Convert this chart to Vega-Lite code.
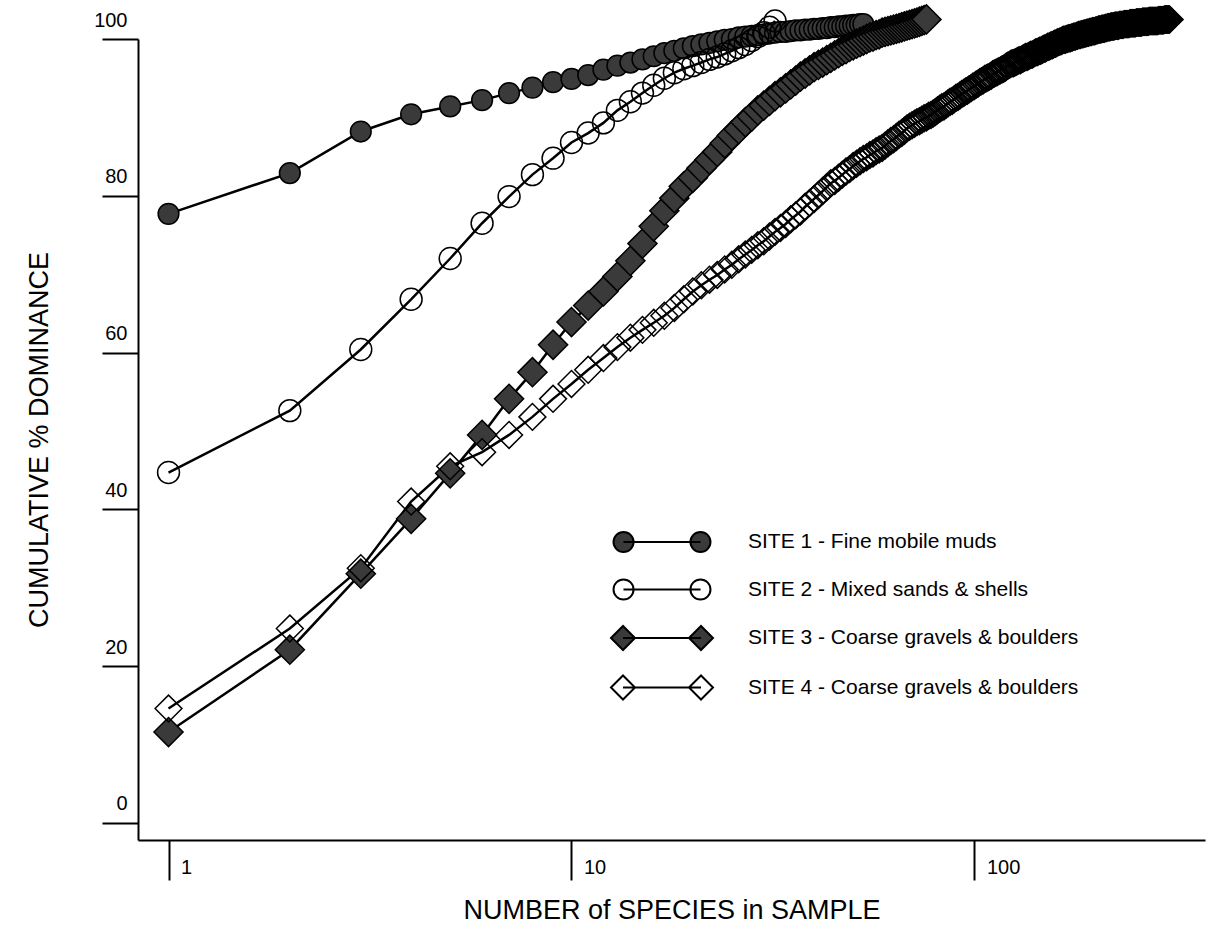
{
"$schema":"https://vega.github.io/schema/vega-lite/v6.json",
"width":1067,"height":801,
"autosize":{"type":"none"},
"padding":{"left":138,"top":39,"right":4,"bottom":103},
"background":"white",
"config":{"font":"Liberation Sans","view":{"stroke":null},"axis":{"grid":false,"domainColor":"black","tickColor":"black","labelColor":"black","titleColor":"black","labelFont":"Liberation Sans","titleFont":"Liberation Sans","titleFontWeight":"normal","labelOverlap":false},"legend":{"padding":0}},
"datasets":{"d":[
{"site":"SITE 1","n":1,"pct":77.7},{"site":"SITE 1","n":2,"pct":82.9},{"site":"SITE 1","n":3,"pct":88.2},{"site":"SITE 1","n":4,"pct":90.4},{"site":"SITE 1","n":5,"pct":91.4},{"site":"SITE 1","n":6,"pct":92.2},{"site":"SITE 1","n":7,"pct":93.1},{"site":"SITE 1","n":8,"pct":93.8},{"site":"SITE 1","n":9,"pct":94.5},{"site":"SITE 1","n":10,"pct":94.9},
{"site":"SITE 1","n":11,"pct":95.4},{"site":"SITE 1","n":12,"pct":96.1},{"site":"SITE 1","n":13,"pct":96.6},{"site":"SITE 1","n":14,"pct":97.0},{"site":"SITE 1","n":15,"pct":97.4},{"site":"SITE 1","n":16,"pct":97.8},{"site":"SITE 1","n":17,"pct":98.2},{"site":"SITE 1","n":18,"pct":98.5},{"site":"SITE 1","n":19,"pct":98.8},{"site":"SITE 1","n":20,"pct":99.1},
{"site":"SITE 1","n":21,"pct":99.3},{"site":"SITE 1","n":22,"pct":99.5},{"site":"SITE 1","n":23,"pct":99.7},{"site":"SITE 1","n":24,"pct":99.9},{"site":"SITE 1","n":25,"pct":100.0},{"site":"SITE 1","n":26,"pct":100.2},{"site":"SITE 1","n":27,"pct":100.3},{"site":"SITE 1","n":28,"pct":100.4},{"site":"SITE 1","n":29,"pct":100.5},{"site":"SITE 1","n":30,"pct":100.6},
{"site":"SITE 1","n":31,"pct":100.7},{"site":"SITE 1","n":32,"pct":100.8},{"site":"SITE 1","n":33,"pct":100.9},{"site":"SITE 1","n":34,"pct":100.9},{"site":"SITE 1","n":35,"pct":101.0},{"site":"SITE 1","n":36,"pct":101.1},{"site":"SITE 1","n":37,"pct":101.1},{"site":"SITE 1","n":38,"pct":101.2},{"site":"SITE 1","n":39,"pct":101.2},{"site":"SITE 1","n":40,"pct":101.3},
{"site":"SITE 1","n":41,"pct":101.3},{"site":"SITE 1","n":42,"pct":101.4},{"site":"SITE 1","n":43,"pct":101.4},{"site":"SITE 1","n":44,"pct":101.5},{"site":"SITE 1","n":45,"pct":101.5},{"site":"SITE 1","n":46,"pct":101.6},{"site":"SITE 1","n":47,"pct":101.6},{"site":"SITE 1","n":48,"pct":101.7},{"site":"SITE 1","n":49,"pct":101.7},{"site":"SITE 1","n":50,"pct":101.8},
{"site":"SITE 1","n":51,"pct":101.8},{"site":"SITE 1","n":52,"pct":101.9},{"site":"SITE 1","n":53,"pct":101.9},
{"site":"SITE 2","n":1,"pct":44.7},{"site":"SITE 2","n":2,"pct":52.6},{"site":"SITE 2","n":3,"pct":60.4},{"site":"SITE 2","n":4,"pct":66.8},{"site":"SITE 2","n":5,"pct":72.0},{"site":"SITE 2","n":6,"pct":76.5},{"site":"SITE 2","n":7,"pct":79.9},{"site":"SITE 2","n":8,"pct":82.7},{"site":"SITE 2","n":9,"pct":84.8},{"site":"SITE 2","n":10,"pct":86.8},
{"site":"SITE 2","n":11,"pct":88.0},{"site":"SITE 2","n":12,"pct":89.3},{"site":"SITE 2","n":13,"pct":90.9},{"site":"SITE 2","n":14,"pct":92.0},{"site":"SITE 2","n":15,"pct":93.1},{"site":"SITE 2","n":16,"pct":94.1},{"site":"SITE 2","n":17,"pct":95.0},{"site":"SITE 2","n":18,"pct":95.7},{"site":"SITE 2","n":19,"pct":96.2},{"site":"SITE 2","n":20,"pct":96.6},
{"site":"SITE 2","n":21,"pct":97.0},{"site":"SITE 2","n":22,"pct":97.4},{"site":"SITE 2","n":23,"pct":97.7},{"site":"SITE 2","n":24,"pct":98.1},{"site":"SITE 2","n":25,"pct":98.5},{"site":"SITE 2","n":26,"pct":98.9},{"site":"SITE 2","n":27,"pct":99.3},{"site":"SITE 2","n":28,"pct":99.8},{"site":"SITE 2","n":29,"pct":100.3},{"site":"SITE 2","n":30,"pct":100.8},
{"site":"SITE 2","n":31,"pct":101.5},{"site":"SITE 2","n":32,"pct":102.3},
{"site":"SITE 3","n":1,"pct":11.6},{"site":"SITE 3","n":2,"pct":22.1},{"site":"SITE 3","n":3,"pct":31.8},{"site":"SITE 3","n":4,"pct":38.8},{"site":"SITE 3","n":5,"pct":44.6},{"site":"SITE 3","n":6,"pct":49.5},{"site":"SITE 3","n":7,"pct":54.1},{"site":"SITE 3","n":8,"pct":57.5},{"site":"SITE 3","n":9,"pct":61.0},{"site":"SITE 3","n":10,"pct":63.9},
{"site":"SITE 3","n":11,"pct":66.0},{"site":"SITE 3","n":12,"pct":67.8},{"site":"SITE 3","n":13,"pct":69.7},{"site":"SITE 3","n":14,"pct":71.7},{"site":"SITE 3","n":15,"pct":73.9},{"site":"SITE 3","n":16,"pct":76.1},{"site":"SITE 3","n":17,"pct":78.1},{"site":"SITE 3","n":18,"pct":79.7},{"site":"SITE 3","n":19,"pct":81.2},{"site":"SITE 3","n":20,"pct":82.3},
{"site":"SITE 3","n":21,"pct":83.5},{"site":"SITE 3","n":22,"pct":84.6},{"site":"SITE 3","n":23,"pct":85.6},{"site":"SITE 3","n":24,"pct":86.7},{"site":"SITE 3","n":25,"pct":87.7},{"site":"SITE 3","n":26,"pct":88.5},{"site":"SITE 3","n":27,"pct":89.4},{"site":"SITE 3","n":28,"pct":90.1},{"site":"SITE 3","n":29,"pct":90.9},{"site":"SITE 3","n":30,"pct":91.5},
{"site":"SITE 3","n":31,"pct":92.1},{"site":"SITE 3","n":32,"pct":92.7},{"site":"SITE 3","n":33,"pct":93.2},{"site":"SITE 3","n":34,"pct":93.7},{"site":"SITE 3","n":35,"pct":94.2},{"site":"SITE 3","n":36,"pct":94.7},{"site":"SITE 3","n":37,"pct":95.2},{"site":"SITE 3","n":38,"pct":95.6},{"site":"SITE 3","n":39,"pct":96.0},{"site":"SITE 3","n":40,"pct":96.4},
{"site":"SITE 3","n":41,"pct":96.7},{"site":"SITE 3","n":42,"pct":97.0},{"site":"SITE 3","n":43,"pct":97.3},{"site":"SITE 3","n":44,"pct":97.6},{"site":"SITE 3","n":45,"pct":97.9},{"site":"SITE 3","n":46,"pct":98.2},{"site":"SITE 3","n":47,"pct":98.5},{"site":"SITE 3","n":48,"pct":98.7},{"site":"SITE 3","n":49,"pct":99.0},{"site":"SITE 3","n":50,"pct":99.2},
{"site":"SITE 3","n":51,"pct":99.4},{"site":"SITE 3","n":52,"pct":99.6},{"site":"SITE 3","n":53,"pct":99.8},{"site":"SITE 3","n":54,"pct":100.0},{"site":"SITE 3","n":55,"pct":100.2},{"site":"SITE 3","n":56,"pct":100.3},{"site":"SITE 3","n":57,"pct":100.5},{"site":"SITE 3","n":58,"pct":100.6},{"site":"SITE 3","n":59,"pct":100.8},{"site":"SITE 3","n":60,"pct":100.9},
{"site":"SITE 3","n":61,"pct":101.0},{"site":"SITE 3","n":62,"pct":101.1},{"site":"SITE 3","n":63,"pct":101.2},{"site":"SITE 3","n":64,"pct":101.3},{"site":"SITE 3","n":65,"pct":101.4},{"site":"SITE 3","n":66,"pct":101.5},{"site":"SITE 3","n":67,"pct":101.6},{"site":"SITE 3","n":68,"pct":101.7},{"site":"SITE 3","n":69,"pct":101.8},{"site":"SITE 3","n":70,"pct":101.9},
{"site":"SITE 3","n":71,"pct":102.0},{"site":"SITE 3","n":72,"pct":102.1},{"site":"SITE 3","n":73,"pct":102.2},{"site":"SITE 3","n":74,"pct":102.3},{"site":"SITE 3","n":75,"pct":102.4},{"site":"SITE 3","n":76,"pct":102.5},
{"site":"SITE 4","n":1,"pct":14.6},{"site":"SITE 4","n":2,"pct":24.8},{"site":"SITE 4","n":3,"pct":32.5},{"site":"SITE 4","n":4,"pct":41.0},{"site":"SITE 4","n":5,"pct":45.5},{"site":"SITE 4","n":6,"pct":47.3},{"site":"SITE 4","n":7,"pct":49.5},{"site":"SITE 4","n":8,"pct":51.8},{"site":"SITE 4","n":9,"pct":54.1},{"site":"SITE 4","n":10,"pct":56.0},
{"site":"SITE 4","n":11,"pct":57.8},{"site":"SITE 4","n":12,"pct":59.3},{"site":"SITE 4","n":13,"pct":60.7},{"site":"SITE 4","n":14,"pct":61.9},{"site":"SITE 4","n":15,"pct":62.9},{"site":"SITE 4","n":16,"pct":63.8},{"site":"SITE 4","n":17,"pct":64.7},{"site":"SITE 4","n":18,"pct":65.7},{"site":"SITE 4","n":19,"pct":66.8},{"site":"SITE 4","n":20,"pct":67.8},
{"site":"SITE 4","n":21,"pct":68.6},{"site":"SITE 4","n":22,"pct":69.3},{"site":"SITE 4","n":23,"pct":69.9},{"site":"SITE 4","n":24,"pct":70.6},{"site":"SITE 4","n":25,"pct":71.2},{"site":"SITE 4","n":26,"pct":71.9},{"site":"SITE 4","n":27,"pct":72.5},{"site":"SITE 4","n":28,"pct":73.1},{"site":"SITE 4","n":29,"pct":73.7},{"site":"SITE 4","n":30,"pct":74.2},
{"site":"SITE 4","n":31,"pct":74.8},{"site":"SITE 4","n":32,"pct":75.4},{"site":"SITE 4","n":33,"pct":75.9},{"site":"SITE 4","n":34,"pct":76.4},{"site":"SITE 4","n":35,"pct":77.0},{"site":"SITE 4","n":36,"pct":77.5},{"site":"SITE 4","n":37,"pct":78.0},{"site":"SITE 4","n":38,"pct":78.6},{"site":"SITE 4","n":39,"pct":79.1},{"site":"SITE 4","n":40,"pct":79.6},
{"site":"SITE 4","n":41,"pct":80.1},{"site":"SITE 4","n":42,"pct":80.6},{"site":"SITE 4","n":43,"pct":81.1},{"site":"SITE 4","n":44,"pct":81.6},{"site":"SITE 4","n":45,"pct":81.9},{"site":"SITE 4","n":46,"pct":82.3},{"site":"SITE 4","n":47,"pct":82.7},{"site":"SITE 4","n":48,"pct":83.1},{"site":"SITE 4","n":49,"pct":83.4},{"site":"SITE 4","n":50,"pct":83.8},
{"site":"SITE 4","n":51,"pct":84.1},{"site":"SITE 4","n":52,"pct":84.4},{"site":"SITE 4","n":53,"pct":84.7},{"site":"SITE 4","n":54,"pct":84.9},{"site":"SITE 4","n":55,"pct":85.2},{"site":"SITE 4","n":56,"pct":85.4},{"site":"SITE 4","n":57,"pct":85.7},{"site":"SITE 4","n":58,"pct":85.9},{"site":"SITE 4","n":59,"pct":86.1},{"site":"SITE 4","n":60,"pct":86.4},
{"site":"SITE 4","n":61,"pct":86.7},{"site":"SITE 4","n":62,"pct":87.0},{"site":"SITE 4","n":63,"pct":87.2},{"site":"SITE 4","n":64,"pct":87.5},{"site":"SITE 4","n":65,"pct":87.8},{"site":"SITE 4","n":66,"pct":88.0},{"site":"SITE 4","n":67,"pct":88.3},{"site":"SITE 4","n":68,"pct":88.6},{"site":"SITE 4","n":69,"pct":88.8},{"site":"SITE 4","n":70,"pct":89.0},
{"site":"SITE 4","n":71,"pct":89.2},{"site":"SITE 4","n":72,"pct":89.4},{"site":"SITE 4","n":73,"pct":89.5},{"site":"SITE 4","n":74,"pct":89.7},{"site":"SITE 4","n":75,"pct":89.9},{"site":"SITE 4","n":76,"pct":90.0},{"site":"SITE 4","n":77,"pct":90.2},{"site":"SITE 4","n":78,"pct":90.3},{"site":"SITE 4","n":79,"pct":90.5},{"site":"SITE 4","n":80,"pct":90.7},
{"site":"SITE 4","n":81,"pct":90.9},{"site":"SITE 4","n":82,"pct":91.1},{"site":"SITE 4","n":83,"pct":91.3},{"site":"SITE 4","n":84,"pct":91.4},{"site":"SITE 4","n":85,"pct":91.6},{"site":"SITE 4","n":86,"pct":91.8},{"site":"SITE 4","n":87,"pct":92.0},{"site":"SITE 4","n":88,"pct":92.1},{"site":"SITE 4","n":89,"pct":92.3},{"site":"SITE 4","n":90,"pct":92.5},
{"site":"SITE 4","n":91,"pct":92.6},{"site":"SITE 4","n":92,"pct":92.8},{"site":"SITE 4","n":93,"pct":93.0},{"site":"SITE 4","n":94,"pct":93.1},{"site":"SITE 4","n":95,"pct":93.3},{"site":"SITE 4","n":96,"pct":93.4},{"site":"SITE 4","n":97,"pct":93.6},{"site":"SITE 4","n":98,"pct":93.7},{"site":"SITE 4","n":99,"pct":93.9},{"site":"SITE 4","n":100,"pct":94.0},
{"site":"SITE 4","n":101,"pct":94.2},{"site":"SITE 4","n":102,"pct":94.3},{"site":"SITE 4","n":103,"pct":94.5},{"site":"SITE 4","n":104,"pct":94.6},{"site":"SITE 4","n":105,"pct":94.7},{"site":"SITE 4","n":106,"pct":94.9},{"site":"SITE 4","n":107,"pct":95.0},{"site":"SITE 4","n":108,"pct":95.1},{"site":"SITE 4","n":109,"pct":95.2},{"site":"SITE 4","n":110,"pct":95.3},
{"site":"SITE 4","n":111,"pct":95.5},{"site":"SITE 4","n":112,"pct":95.6},{"site":"SITE 4","n":113,"pct":95.7},{"site":"SITE 4","n":114,"pct":95.8},{"site":"SITE 4","n":115,"pct":95.9},{"site":"SITE 4","n":116,"pct":96.0},{"site":"SITE 4","n":117,"pct":96.1},{"site":"SITE 4","n":118,"pct":96.2},{"site":"SITE 4","n":119,"pct":96.3},{"site":"SITE 4","n":120,"pct":96.5},
{"site":"SITE 4","n":121,"pct":96.6},{"site":"SITE 4","n":122,"pct":96.7},{"site":"SITE 4","n":123,"pct":96.8},{"site":"SITE 4","n":124,"pct":96.9},{"site":"SITE 4","n":125,"pct":96.9},{"site":"SITE 4","n":126,"pct":97.0},{"site":"SITE 4","n":127,"pct":97.1},{"site":"SITE 4","n":128,"pct":97.2},{"site":"SITE 4","n":129,"pct":97.3},{"site":"SITE 4","n":130,"pct":97.3},
{"site":"SITE 4","n":131,"pct":97.4},{"site":"SITE 4","n":132,"pct":97.5},{"site":"SITE 4","n":133,"pct":97.6},{"site":"SITE 4","n":134,"pct":97.7},{"site":"SITE 4","n":135,"pct":97.7},{"site":"SITE 4","n":136,"pct":97.8},{"site":"SITE 4","n":137,"pct":97.9},{"site":"SITE 4","n":138,"pct":98.0},{"site":"SITE 4","n":139,"pct":98.0},{"site":"SITE 4","n":140,"pct":98.1},
{"site":"SITE 4","n":141,"pct":98.2},{"site":"SITE 4","n":142,"pct":98.3},{"site":"SITE 4","n":143,"pct":98.3},{"site":"SITE 4","n":144,"pct":98.4},{"site":"SITE 4","n":145,"pct":98.5},{"site":"SITE 4","n":146,"pct":98.5},{"site":"SITE 4","n":147,"pct":98.6},{"site":"SITE 4","n":148,"pct":98.7},{"site":"SITE 4","n":149,"pct":98.8},{"site":"SITE 4","n":150,"pct":98.8},
{"site":"SITE 4","n":151,"pct":98.9},{"site":"SITE 4","n":152,"pct":99.0},{"site":"SITE 4","n":153,"pct":99.0},{"site":"SITE 4","n":154,"pct":99.1},{"site":"SITE 4","n":155,"pct":99.2},{"site":"SITE 4","n":156,"pct":99.2},{"site":"SITE 4","n":157,"pct":99.3},{"site":"SITE 4","n":158,"pct":99.4},{"site":"SITE 4","n":159,"pct":99.4},{"site":"SITE 4","n":160,"pct":99.5},
{"site":"SITE 4","n":161,"pct":99.6},{"site":"SITE 4","n":162,"pct":99.6},{"site":"SITE 4","n":163,"pct":99.7},{"site":"SITE 4","n":164,"pct":99.7},{"site":"SITE 4","n":165,"pct":99.8},{"site":"SITE 4","n":166,"pct":99.9},{"site":"SITE 4","n":167,"pct":99.9},{"site":"SITE 4","n":168,"pct":99.9},{"site":"SITE 4","n":169,"pct":100.0},{"site":"SITE 4","n":170,"pct":100.0},
{"site":"SITE 4","n":171,"pct":100.1},{"site":"SITE 4","n":172,"pct":100.1},{"site":"SITE 4","n":173,"pct":100.1},{"site":"SITE 4","n":174,"pct":100.2},{"site":"SITE 4","n":175,"pct":100.2},{"site":"SITE 4","n":176,"pct":100.3},{"site":"SITE 4","n":177,"pct":100.3},{"site":"SITE 4","n":178,"pct":100.3},{"site":"SITE 4","n":179,"pct":100.4},{"site":"SITE 4","n":180,"pct":100.4},
{"site":"SITE 4","n":181,"pct":100.5},{"site":"SITE 4","n":182,"pct":100.5},{"site":"SITE 4","n":183,"pct":100.5},{"site":"SITE 4","n":184,"pct":100.6},{"site":"SITE 4","n":185,"pct":100.6},{"site":"SITE 4","n":186,"pct":100.6},{"site":"SITE 4","n":187,"pct":100.7},{"site":"SITE 4","n":188,"pct":100.7},{"site":"SITE 4","n":189,"pct":100.7},{"site":"SITE 4","n":190,"pct":100.8},
{"site":"SITE 4","n":191,"pct":100.8},{"site":"SITE 4","n":192,"pct":100.8},{"site":"SITE 4","n":193,"pct":100.9},{"site":"SITE 4","n":194,"pct":100.9},{"site":"SITE 4","n":195,"pct":100.9},{"site":"SITE 4","n":196,"pct":101.0},{"site":"SITE 4","n":197,"pct":101.0},{"site":"SITE 4","n":198,"pct":101.0},{"site":"SITE 4","n":199,"pct":101.0},{"site":"SITE 4","n":200,"pct":101.1},
{"site":"SITE 4","n":201,"pct":101.1},{"site":"SITE 4","n":202,"pct":101.1},{"site":"SITE 4","n":203,"pct":101.2},{"site":"SITE 4","n":204,"pct":101.2},{"site":"SITE 4","n":205,"pct":101.2},{"site":"SITE 4","n":206,"pct":101.2},{"site":"SITE 4","n":207,"pct":101.3},{"site":"SITE 4","n":208,"pct":101.3},{"site":"SITE 4","n":209,"pct":101.3},{"site":"SITE 4","n":210,"pct":101.3},
{"site":"SITE 4","n":211,"pct":101.4},{"site":"SITE 4","n":212,"pct":101.4},{"site":"SITE 4","n":213,"pct":101.4},{"site":"SITE 4","n":214,"pct":101.5},{"site":"SITE 4","n":215,"pct":101.5},{"site":"SITE 4","n":216,"pct":101.5},{"site":"SITE 4","n":217,"pct":101.5},{"site":"SITE 4","n":218,"pct":101.6},{"site":"SITE 4","n":219,"pct":101.6},{"site":"SITE 4","n":220,"pct":101.6},
{"site":"SITE 4","n":221,"pct":101.6},{"site":"SITE 4","n":222,"pct":101.6},{"site":"SITE 4","n":223,"pct":101.7},{"site":"SITE 4","n":224,"pct":101.7},{"site":"SITE 4","n":225,"pct":101.7},{"site":"SITE 4","n":226,"pct":101.7},{"site":"SITE 4","n":227,"pct":101.7},{"site":"SITE 4","n":228,"pct":101.7},{"site":"SITE 4","n":229,"pct":101.8},{"site":"SITE 4","n":230,"pct":101.8},
{"site":"SITE 4","n":231,"pct":101.8},{"site":"SITE 4","n":232,"pct":101.8},{"site":"SITE 4","n":233,"pct":101.8},{"site":"SITE 4","n":234,"pct":101.8},{"site":"SITE 4","n":235,"pct":101.9},{"site":"SITE 4","n":236,"pct":101.9},{"site":"SITE 4","n":237,"pct":101.9},{"site":"SITE 4","n":238,"pct":101.9},{"site":"SITE 4","n":239,"pct":101.9},{"site":"SITE 4","n":240,"pct":101.9},
{"site":"SITE 4","n":241,"pct":101.9},{"site":"SITE 4","n":242,"pct":101.9},{"site":"SITE 4","n":243,"pct":102.0},{"site":"SITE 4","n":244,"pct":102.0},{"site":"SITE 4","n":245,"pct":102.0},{"site":"SITE 4","n":246,"pct":102.0},{"site":"SITE 4","n":247,"pct":102.0},{"site":"SITE 4","n":248,"pct":102.0},{"site":"SITE 4","n":249,"pct":102.0},{"site":"SITE 4","n":250,"pct":102.0},
{"site":"SITE 4","n":251,"pct":102.0},{"site":"SITE 4","n":252,"pct":102.1},{"site":"SITE 4","n":253,"pct":102.1},{"site":"SITE 4","n":254,"pct":102.1},{"site":"SITE 4","n":255,"pct":102.1},{"site":"SITE 4","n":256,"pct":102.1},{"site":"SITE 4","n":257,"pct":102.1},{"site":"SITE 4","n":258,"pct":102.1},{"site":"SITE 4","n":259,"pct":102.1},{"site":"SITE 4","n":260,"pct":102.1},
{"site":"SITE 4","n":261,"pct":102.2},{"site":"SITE 4","n":262,"pct":102.2},{"site":"SITE 4","n":263,"pct":102.2},{"site":"SITE 4","n":264,"pct":102.2},{"site":"SITE 4","n":265,"pct":102.2},{"site":"SITE 4","n":266,"pct":102.2},{"site":"SITE 4","n":267,"pct":102.2},{"site":"SITE 4","n":268,"pct":102.2},{"site":"SITE 4","n":269,"pct":102.2},{"site":"SITE 4","n":270,"pct":102.2},
{"site":"SITE 4","n":271,"pct":102.3},{"site":"SITE 4","n":272,"pct":102.3},{"site":"SITE 4","n":273,"pct":102.3},{"site":"SITE 4","n":274,"pct":102.3},{"site":"SITE 4","n":275,"pct":102.3},{"site":"SITE 4","n":276,"pct":102.3},{"site":"SITE 4","n":277,"pct":102.3},{"site":"SITE 4","n":278,"pct":102.3},{"site":"SITE 4","n":279,"pct":102.3},{"site":"SITE 4","n":280,"pct":102.3},
{"site":"SITE 4","n":281,"pct":102.3},{"site":"SITE 4","n":282,"pct":102.3},{"site":"SITE 4","n":283,"pct":102.3},{"site":"SITE 4","n":284,"pct":102.3},{"site":"SITE 4","n":285,"pct":102.3},{"site":"SITE 4","n":286,"pct":102.4},{"site":"SITE 4","n":287,"pct":102.4},{"site":"SITE 4","n":288,"pct":102.4},{"site":"SITE 4","n":289,"pct":102.4},{"site":"SITE 4","n":290,"pct":102.4},
{"site":"SITE 4","n":291,"pct":102.4},{"site":"SITE 4","n":292,"pct":102.4},{"site":"SITE 4","n":293,"pct":102.4},{"site":"SITE 4","n":294,"pct":102.4},{"site":"SITE 4","n":295,"pct":102.4},{"site":"SITE 4","n":296,"pct":102.5},{"site":"SITE 4","n":297,"pct":102.5},{"site":"SITE 4","n":298,"pct":102.5},{"site":"SITE 4","n":299,"pct":102.5},{"site":"SITE 4","n":300,"pct":102.5},
{"site":"SITE 4","n":301,"pct":102.5},{"site":"SITE 4","n":302,"pct":102.5},{"site":"SITE 4","n":303,"pct":102.5},{"site":"SITE 4","n":304,"pct":102.5},{"site":"SITE 4","n":305,"pct":102.5}
]},
"data":{"name":"d"},
"encoding":{
"x":{"field":"n","type":"quantitative","scale":{"type":"log","domain":[0.84,373.3],"nice":false},
"axis":{"title":"NUMBER of SPECIES in SAMPLE","values":[1,10,100],"format":"d","tickSize":40,"tickWidth":2,"domainWidth":2,"labelAlign":"left","labelBaseline":"middle","labelOffset":12,"labelPadding":-13,"labelFontSize":20,"titleFontSize":27,"titleY":70,"titleBaseline":"middle"}},
"y":{"field":"pct","type":"quantitative","scale":{"domain":[-2.17,100],"nice":false,"zero":false},
"axis":{"title":"CUMULATIVE % DOMINANCE","values":[0,20,40,60,80,100],"tickSize":36,"tickWidth":2,"domainWidth":2,"labelAlign":"right","labelBaseline":"middle","labelOffset":-19,"labelPadding":-25,"labelFontSize":20,"titleFontSize":27,"titleX":-99,"titleBaseline":"middle"}}
},
"layer":[
{"mark":{"type":"line","color":"black","strokeWidth":2.5},
"encoding":{"detail":{"field":"site"},"order":{"field":"n","type":"quantitative"}}},
{"transform":[{"filter":{"field":"site","equal":"SITE 1"}}],
"mark":{"type":"point","shape":"circle","filled":true,"fill":"#3a3a3a","stroke":"black","strokeWidth":1.5,"opacity":1,"size":430}},
{"transform":[{"filter":{"field":"site","equal":"SITE 2"}}],
"mark":{"type":"point","shape":"circle","filled":false,"fill":"transparent","stroke":"black","strokeWidth":1.5,"opacity":1,"size":480}},
{"transform":[{"filter":{"field":"site","equal":"SITE 3"}}],
"mark":{"type":"point","shape":"diamond","filled":true,"fill":"#3a3a3a","stroke":"black","strokeWidth":1.5,"opacity":1,"size":850}},
{"transform":[{"filter":{"field":"site","equal":"SITE 4"}}],
"mark":{"type":"point","shape":"diamond","filled":false,"fill":"transparent","stroke":"black","strokeWidth":1.5,"opacity":1,"size":720}},
{"transform":[{"filter":{"field":"n","lt":0}}],
"mark":{"type":"point","filled":true,"strokeWidth":2,"opacity":1},
"encoding":{
"shape":{"field":"site","type":"nominal","scale":{"domain":["SITE 1","SITE 2","SITE 3","SITE 4"],"range":[
"M-4.04,0A0.833,0.833 0 1,0 -2.37,0A0.833,0.833 0 1,0 -4.04,0ZM2.37,0A0.833,0.833 0 1,0 4.04,0A0.833,0.833 0 1,0 2.37,0ZM-3.21,0L3.21,0",
"M-4.04,0A0.833,0.833 0 1,0 -2.37,0A0.833,0.833 0 1,0 -4.04,0ZM2.37,0A0.833,0.833 0 1,0 4.04,0A0.833,0.833 0 1,0 2.37,0ZM-3.21,0L3.21,0",
"M-4.25,0L-3.25,-1L-2.25,0L-3.25,1ZM2.25,0L3.25,-1L4.25,0L3.25,1ZM-3.25,0L3.25,0",
"M-4.25,0L-3.25,-1L-2.25,0L-3.25,1ZM2.25,0L3.25,-1L4.25,0L3.25,1ZM-3.25,0L3.25,0"]},
"legend":{"orient":"none","legendX":511,"legendY":490,"title":null,"direction":"vertical","symbolSize":576,"symbolOpacity":1,"symbolStrokeColor":"black","symbolStrokeWidth":2,"rowPadding":17.5,"labelOffset":73,"labelFontSize":21,"labelFont":"Liberation Sans","labelColor":"black","labelLimit":600,
"labelExpr":"datum.label === 'SITE 1' ? 'SITE 1 - Fine mobile muds' : datum.label === 'SITE 2' ? 'SITE 2 - Mixed sands & shells' : datum.label === 'SITE 3' ? 'SITE 3 - Coarse gravels & boulders' : 'SITE 4 - Coarse gravels & boulders'"}},
"fill":{"field":"site","type":"nominal","scale":{"domain":["SITE 1","SITE 2","SITE 3","SITE 4"],"range":["#3a3a3a","transparent","#3a3a3a","transparent"]}},
"stroke":{"field":"site","type":"nominal","scale":{"domain":["SITE 1","SITE 2","SITE 3","SITE 4"],"range":["black","black","black","black"]}}
}}
]
}
